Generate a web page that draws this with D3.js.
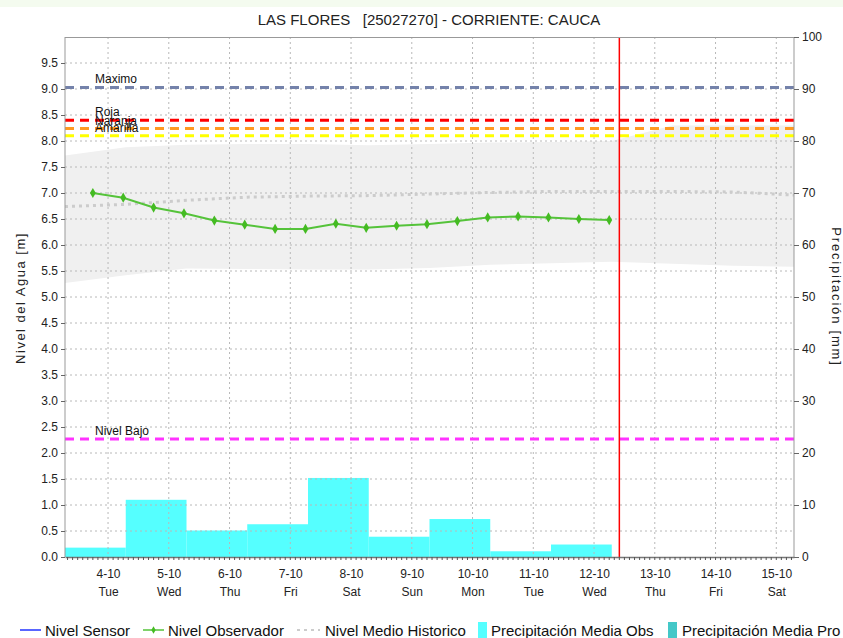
<!DOCTYPE html>
<html>
<head>
<meta charset="utf-8">
<script src="https://cdn.jsdelivr.net/npm/d3@7"></script>
<style>
  body { margin: 0; background: #fff; }
  text { font-family: "Liberation Sans", Arial, sans-serif; }
</style>
</head>
<body>
<script>
const title = "LAS FLORES   [25027270] - CORRIENTE: CAUCA";

// observer readings (every 12 h)
const obsTimes = [
  "2022-10-03T18:00", "2022-10-04T06:00", "2022-10-04T18:00", "2022-10-05T06:00",
  "2022-10-05T18:00", "2022-10-06T06:00", "2022-10-06T18:00", "2022-10-07T06:00",
  "2022-10-07T18:00", "2022-10-08T06:00", "2022-10-08T18:00", "2022-10-09T06:00",
  "2022-10-09T18:00", "2022-10-10T06:00", "2022-10-10T18:00", "2022-10-11T06:00",
  "2022-10-11T18:00", "2022-10-12T06:00",
];
const obsValues = [7.0, 6.91, 6.72, 6.61, 6.47, 6.39, 6.31, 6.31, 6.41, 6.33, 6.37, 6.40, 6.46, 6.53, 6.55, 6.53, 6.50, 6.48];

// historic mean and band (daily)
const histTimes = [
  "2022-10-03T07:00", "2022-10-04T07:00", "2022-10-05T07:00", "2022-10-06T07:00",
  "2022-10-07T07:00", "2022-10-08T07:00", "2022-10-09T07:00", "2022-10-10T07:00",
  "2022-10-11T07:00", "2022-10-12T07:00", "2022-10-13T07:00", "2022-10-14T07:00",
  "2022-10-15T07:00",
];
const histMean = [6.74, 6.78, 6.86, 6.92, 6.94, 6.95, 6.98, 7.01, 7.03, 7.03, 7.03, 7.02, 6.96];
const histUpper = [7.72, 7.88, 7.93, 7.94, 7.94, 7.92, 7.94, 7.97, 7.98, 8.0, 8.3, 8.3, 8.3];
const histLower = [5.27, 5.42, 5.55, 5.54, 5.53, 5.53, 5.56, 5.62, 5.65, 5.68, 5.64, 5.60, 5.58];

// daily precipitation (mm), bar starts
const rainStarts = [
  "2022-10-03T07:00", "2022-10-04T07:00", "2022-10-05T07:00", "2022-10-06T07:00",
  "2022-10-07T07:00", "2022-10-08T07:00", "2022-10-09T07:00", "2022-10-10T07:00",
  "2022-10-11T07:00",
];
const rainValues = [1.8, 11.0, 5.1, 6.3, 15.2, 3.9, 7.3, 1.1, 2.4];

// alert levels
const levelNames = ["Maximo", "Roja", "Naranja", "Amarilla", "Nivel Bajo"];
const levelValues = [9.03, 8.40, 8.24, 8.10, 2.27];
const levelColors = ["#7482aa", "#ff0000", "#ff9a22", "#ffff00", "#ff33ff"];

const nowTime = "2022-10-12T10:00";
const xStart = "2022-10-03T07:00";
const xEnd = "2022-10-15T07:00";

const parse = (s) => new Date(s + ":00Z");

const width = 843;
const height = 638;
const mLeft = 65, mRight = 794, mTop = 37, mBottom = 557;

const svg = d3.select("body").append("svg")
  .attr("width", width)
  .attr("height", height);

svg.append("rect").attr("x", 0).attr("y", 0).attr("width", width).attr("height", 7).attr("fill", "#f4fbef");

const x = d3.scaleUtc().domain([parse(xStart), parse(xEnd)]).range([mLeft, mRight]);
const y = d3.scaleLinear().domain([0, 10]).range([mBottom, mTop]);
const yR = d3.scaleLinear().domain([0, 100]).range([mBottom, mTop]);

svg.append("clipPath").attr("id", "plot")
  .append("rect").attr("x", mLeft).attr("y", mTop).attr("width", mRight - mLeft).attr("height", mBottom - mTop);

const plot = svg.append("g").attr("clip-path", "url(#plot)");

// historic band
const band = histTimes.map((t, i) => ({ t: parse(t), lo: histLower[i], hi: histUpper[i], m: histMean[i] }));
plot.append("path")
  .datum(band)
  .attr("fill", "#f0f0f0")
  .attr("d", d3.area().x(d => x(d.t)).y0(d => y(d.lo)).y1(d => y(d.hi)));

// precipitation bars
const dayMs = 24 * 3600 * 1000;
plot.selectAll(".bar")
  .data(rainStarts.map((t, i) => ({ t: parse(t), v: rainValues[i] })))
  .join("rect")
  .attr("x", d => x(d.t))
  .attr("width", d => x(new Date(+d.t + dayMs)) - x(d.t))
  .attr("y", d => yR(d.v))
  .attr("height", d => yR(0) - yR(d.v))
  .attr("fill", "#55ffff");

// grid
const yGrid = d3.range(0.5, 10, 0.5);
plot.selectAll(".hg")
  .data(yGrid)
  .join("line")
  .attr("x1", mLeft).attr("x2", mRight)
  .attr("y1", d => y(d)).attr("y2", d => y(d))
  .attr("stroke", "#b8b8b8").attr("stroke-dasharray", "2,3");

const dayTicks = d3.utcDay.range(parse("2022-10-04T00:00"), parse(xEnd));
plot.selectAll(".vg")
  .data(dayTicks)
  .join("line")
  .attr("x1", d => x(d)).attr("x2", d => x(d))
  .attr("y1", mTop).attr("y2", mBottom)
  .attr("stroke", "#b8b8b8").attr("stroke-dasharray", "2,3");

// historic mean
plot.append("path")
  .datum(band)
  .attr("fill", "none")
  .attr("stroke", "#cccccc")
  .attr("stroke-width", 3)
  .attr("stroke-dasharray", "3,4")
  .attr("d", d3.line().x(d => x(d.t)).y(d => y(d.m)));

// alert levels
levelValues.forEach((v, i) => {
  plot.append("line")
    .attr("x1", mLeft).attr("x2", mRight)
    .attr("y1", y(v)).attr("y2", y(v))
    .attr("stroke", levelColors[i])
    .attr("stroke-width", 3)
    .attr("stroke-dasharray", "9,6");
});
levelValues.forEach((v, i) => {
  svg.append("text")
    .attr("x", 95).attr("y", y(v) - 4)
    .attr("font-size", 12)
    .attr("fill", "#111")
    .text(levelNames[i]);
});

// observer series
const obs = obsTimes.map((t, i) => ({ t: parse(t), v: obsValues[i] }));
plot.append("path")
  .datum(obs)
  .attr("fill", "none")
  .attr("stroke", "#55c33a")
  .attr("stroke-width", 2)
  .attr("d", d3.line().x(d => x(d.t)).y(d => y(d.v)));
plot.selectAll(".pt")
  .data(obs)
  .join("path")
  .attr("transform", d => `translate(${x(d.t)},${y(d.v)})`)
  .attr("d", d3.symbol(d3.symbolDiamond, 30))
  .attr("fill", "#44bb22");

// now line
svg.append("line")
  .attr("x1", x(parse(nowTime))).attr("x2", x(parse(nowTime)))
  .attr("y1", mTop).attr("y2", mBottom)
  .attr("stroke", "#ff0000").attr("stroke-width", 1.5);

// frame
svg.append("line").attr("x1", mLeft).attr("x2", mRight).attr("y1", mTop + 0.5).attr("y2", mTop + 0.5).attr("stroke", "#999");

// left axis
const yAxis = svg.append("g")
  .attr("transform", `translate(${mLeft},0)`)
  .call(d3.axisLeft(y).tickValues(d3.range(0, 10, 0.5)).tickFormat(d3.format(".1f")).tickSize(4).tickPadding(3));
yAxis.select(".domain").attr("stroke", "#999").attr("d", `M0,${mTop}V${mBottom}`);
yAxis.selectAll(".tick line").attr("stroke", "#666");
yAxis.selectAll("text").attr("font-size", 12).attr("fill", "#222");

// right axis
const yAxisR = svg.append("g")
  .attr("transform", `translate(${mRight},0)`)
  .call(d3.axisRight(yR).tickValues(d3.range(0, 101, 10)).tickSize(5).tickPadding(3));
yAxisR.select(".domain").attr("stroke", "#999").attr("d", `M0,${mTop}V${mBottom}`);
yAxisR.selectAll(".tick line").attr("stroke", "#666");
yAxisR.selectAll("text").attr("font-size", 12).attr("fill", "#222");

// bottom axis
const xAxis = svg.append("g")
  .attr("transform", `translate(0,${mBottom})`)
  .call(d3.axisBottom(x).tickValues(dayTicks).tickSize(0).tickPadding(12).tickFormat(d3.utcFormat("%-d-%m")));
xAxis.select(".domain").attr("stroke", "#777").attr("stroke-width", 1.5);
xAxis.selectAll("text").attr("font-size", 12).attr("fill", "#222");
xAxis.selectAll(".tick").append("text")
  .attr("y", 39).attr("dy", "0")
  .attr("font-size", 12).attr("fill", "#222")
  .text(d => d3.utcFormat("%a")(d));
svg.append("g")
  .selectAll("line")
  .data(d3.utcHour.every(2).range(parse(xStart), parse(xEnd)))
  .join("line")
  .attr("x1", d => x(d)).attr("x2", d => x(d))
  .attr("y1", mBottom).attr("y2", mBottom + 3)
  .attr("stroke", "#555");

// axis labels
svg.append("text")
  .attr("transform", `translate(25,298) rotate(-90)`)
  .attr("text-anchor", "middle")
  .attr("font-size", 13)
  .attr("letter-spacing", 1.5)
  .attr("fill", "#222")
  .text("Nivel del Agua [m]");
svg.append("text")
  .attr("transform", `translate(832,297) rotate(90)`)
  .attr("text-anchor", "middle")
  .attr("font-size", 13)
  .attr("letter-spacing", 1.8)
  .attr("fill", "#222")
  .text("Precipitación [mm]");

// title
svg.append("text")
  .attr("x", 429).attr("y", 25)
  .attr("text-anchor", "middle")
  .attr("font-size", 15)
  .attr("fill", "#222")
  .style("white-space", "pre")
  .text(title);

// legend
const legendNames = ["Nivel Sensor", "Nivel Observador", "Nivel Medio Historico", "Precipitación Media Obs", "Precipitación Media Pro"];
const legendTextX = [45, 168, 325, 491, 682];
const legend = svg.append("g");
const ly = 630;
legend.append("line").attr("x1", 20).attr("x2", 41).attr("y1", ly).attr("y2", ly).attr("stroke", "#2233ff").attr("stroke-width", 1.5);
legend.append("line").attr("x1", 143).attr("x2", 164).attr("y1", ly).attr("y2", ly).attr("stroke", "#55c33a").attr("stroke-width", 1.5);
legend.append("path").attr("transform", `translate(153.5,${ly})`).attr("d", d3.symbol(d3.symbolDiamond, 16)).attr("fill", "#44bb22");
legend.append("line").attr("x1", 297).attr("x2", 320).attr("y1", ly).attr("y2", ly).attr("stroke", "#cccccc").attr("stroke-width", 2).attr("stroke-dasharray", "3,4");
legend.append("rect").attr("x", 478).attr("y", 622).attr("width", 9).attr("height", 16).attr("fill", "#55ffff");
legend.append("rect").attr("x", 668).attr("y", 622).attr("width", 9).attr("height", 16).attr("fill", "#44c8c8");
legend.selectAll("text")
  .data(legendNames)
  .join("text")
  .attr("x", (d, i) => legendTextX[i])
  .attr("y", 636)
  .attr("font-size", 15)
  .attr("fill", "#111")
  .text(d => d);
</script>
</body>
</html>
